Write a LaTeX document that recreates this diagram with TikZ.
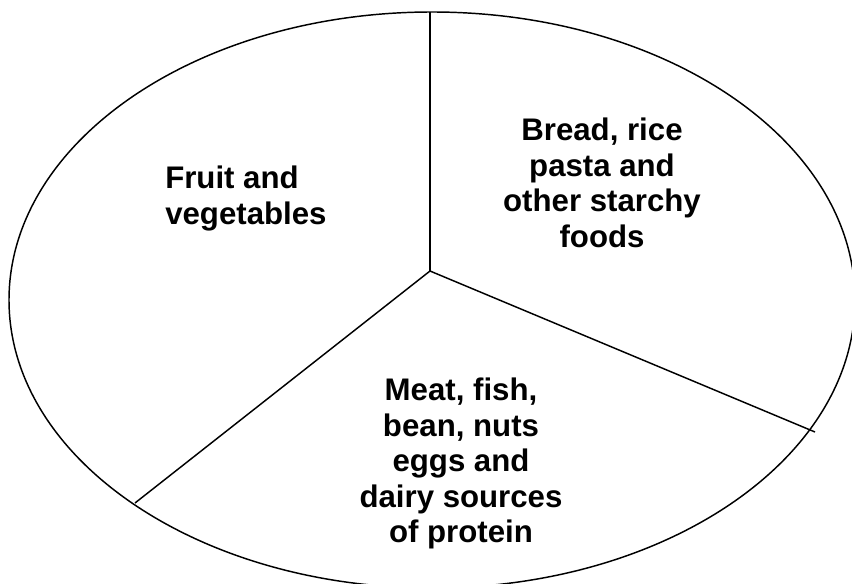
\documentclass[tikz,border=0pt]{standalone}
\usepackage{fontspec}
\setmainfont{Liberation Sans}
\usepackage{tikz}

\tikzset{
  foodtext/.style={inner sep=0pt,font=\bfseries\fontsize{23.4}{26.6}\selectfont},
  divider/.style={line width=1.1pt}
}

\begin{document}
\begin{tikzpicture}[x=0.75pt,y=-0.75pt]
  \useasboundingbox (0,0) rectangle (852,584);
  \begin{scope}
    \clip (0,0) rectangle (852,584);
    \draw[divider] (432,300) ellipse [x radius=423, y radius=288];
  \end{scope}
  \coordinate (ctr) at (430,271);
  \coordinate (top) at (430,12);
  \coordinate (ll) at (135,503);
  \coordinate (rr) at (815,432);
  \draw[divider] (ctr)--(top);
  \draw[divider] (ctr)--(ll);
  \draw[divider] (ctr)--(rr);
  \node[foodtext,anchor=north west,align=left] (fruit) at (165,166)
    {Fruit and\\vegetables};
  \node[foodtext,anchor=north,align=center] (bread) at (602,118)
    {Bread, rice\\pasta and\\other starchy\\foods};
  \node[foodtext,anchor=north,align=center] (meat) at (461,378)
    {Meat, fish,\\bean, nuts\\eggs and\\dairy sources\\of protein};
\end{tikzpicture}
\end{document}
